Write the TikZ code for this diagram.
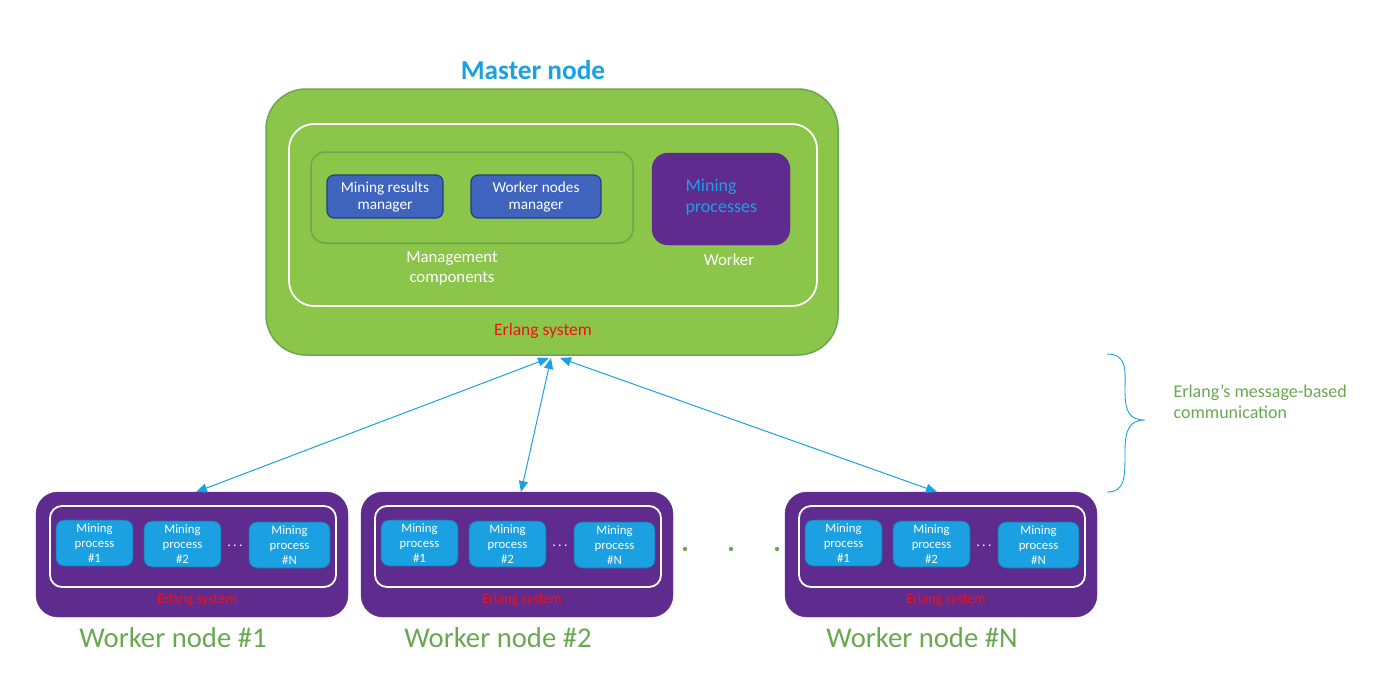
\documentclass[tikz,border=0pt]{standalone}
\usepackage{fontspec}
\setmainfont{Carlito}
\usetikzlibrary{arrows.meta}
\definecolor{mgreen}{RGB}{139,197,74}
\definecolor{mgreenD}{RGB}{106,168,79}
\definecolor{tgreen}{RGB}{106,168,79}
\definecolor{mblue}{RGB}{63,100,190}
\definecolor{mblueD}{RGB}{38,64,130}
\definecolor{mpurple}{RGB}{95,43,142}
\definecolor{mcyan}{RGB}{27,161,226}
\definecolor{mcyanD}{RGB}{30,110,160}
\definecolor{mred}{RGB}{240,20,20}
\tikzset{
  box/.style={draw, rectangle, inner sep=0pt, outer sep=0pt},
  masterbox/.style={box, fill=mgreen, draw=mgreenD, line width=1.5pt, rounded corners=40pt, minimum width=572pt, minimum height=266pt},
  whitebox/.style={box, draw=white, line width=1.8pt, rounded corners=#1},
  mgmtbox/.style={box, draw=mgreenD, line width=1.5pt, rounded corners=14pt, minimum width=322pt, minimum height=91pt},
  mgrbox/.style={box, fill=mblue, draw=mblueD, line width=1.2pt, rounded corners=7pt, minimum height=43pt, text=white, align=center, font=\fontsize{15.3}{17}\selectfont},
  purplebox/.style={box, fill=mpurple, draw=mpurple, rounded corners=#1},
  procbox/.style={box, fill=mcyan, draw=mcyanD, line width=0.8pt, rounded corners=8pt, minimum height=46pt, text=white, align=center, font=\fontsize{12.8}{15}\selectfont},
  wlabel/.style={text=white, align=center, font=\fontsize{16.8}{20}\selectfont},
  bigtitle/.style={font=\fontsize{28.7}{30}\selectfont},
  link/.style={draw=mcyan, line width=1pt, {Triangle[length=11pt,width=9pt]}-{Triangle[length=11pt,width=9pt]}},
}
\begin{document}
\begin{tikzpicture}[x=1pt,y=-1pt]
\useasboundingbox (0,0) rectangle (1391,694);
% Master node
\node[text=mcyan, font=\fontsize{27.3}{30}\selectfont\bfseries] (mtitle) at (533,70) {Master node};
\node[masterbox] (master) at (552,222) {};
\node[whitebox=25pt, minimum width=528pt, minimum height=182pt] (minner) at (553,215) {};
\node[mgmtbox] (mgmt) at (472,197.5) {};
\node[mgrbox, minimum width=116pt] (mrm) at (385,196.5) {Mining results\\manager};
\node[mgrbox, minimum width=130pt] (wnm) at (536,196.5) {Worker nodes\\manager};
\node[wlabel] (mgmtlbl) at (452,268) {Management\\components};
\node[purplebox=16pt, minimum width=138pt, minimum height=92pt] (mworker) at (721,199) {};
\node[text=mcyan, align=left, font=\fontsize{18}{21}\selectfont, anchor=west] (mproc) at (682,197.5) {Mining\\processes};
\node[wlabel] (workerlbl) at (729,260) {Worker};
\node[text=mred, font=\fontsize{17.5}{18}\selectfont] (merl) at (543,331) {Erlang system};
% coordinates at master bottom
\coordinate (m1) at (549,358);
\coordinate (m2) at (551,358);
\coordinate (m3) at (560,358);
% Worker nodes
\foreach \dx/\n/\lbl in {0/1/{\#1}, 325/2/{\#2}, 749/3/{\#N}} {
  \node[purplebox=22pt, minimum width=312pt, minimum height=125pt] (w\n) at (192+\dx,554.5) {};
  \node[whitebox=12pt, minimum width=286pt, minimum height=81pt] (wi\n) at (193+\dx,546.5) {};
  \node[procbox, minimum width=77pt] (wp\n a) at (94.5+\dx,543) {Mining\\process\\\#1};
  \node[procbox, minimum width=77pt] (wp\n b) at (182.5+\dx,544) {Mining\\process\\\#2};
  \node[procbox, minimum width=81pt] (wp\n c) at (289.5+\dx,545) {Mining\\process\\\#N};
  \node[text=white, font=\fontsize{14}{14}\selectfont] (wd\n) at (235+\dx,546) {.\,.\,.};
  \node[text=mred, font=\fontsize{14.2}{14}\selectfont] (we\n) at (197+\dx,600) {Erlang system};
  \node[bigtitle, text=tgreen] (wt\n) at (173+\dx,638) {Worker node \lbl};
}
\coordinate (t1) at (196,492);
\coordinate (t2) at (521,492);
\coordinate (t3) at (937,492);
\draw[link] (m1) -- (t1);
\draw[link] (m2) -- (t2);
\draw[link] (m3) -- (t3);
% dots between worker 2 and worker N
\foreach \x [count=\i] in {685,731,777} \fill[tgreen] (\x,549) circle (2.2pt) coordinate (dot\i);
% brace
\coordinate (bt) at (1107,354);
\coordinate (bm) at (1145,420);
\coordinate (bb) at (1107,492);
\draw[mcyan, line width=0.9pt] (bt) .. controls (1128,354) and (1125,372) .. (1125,390)
  .. controls (1125,410) and (1128,420) .. (bm)
  .. controls (1128,420) and (1125,432) .. (1125,452)
  .. controls (1125,478) and (1125,492) .. (bb);
\node[text=tgreen, align=left, anchor=west, font=\fontsize{18}{21}\selectfont] (comm) at (1170,401.5) {Erlang’s message-based\\communication};
\end{tikzpicture}
\end{document}
